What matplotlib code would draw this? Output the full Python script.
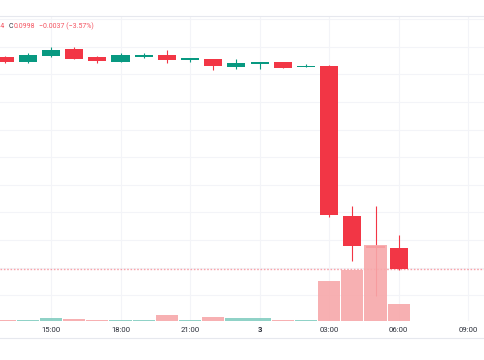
import matplotlib
matplotlib.use('Agg')
import matplotlib.pyplot as plt
import numpy as np

plt.rcParams['font.family'] = ['Roboto', 'DejaVu Sans']

# hourly candles, hour 24 = midnight of day 3
hours = [13, 14, 15, 16, 17, 18, 19, 20, 21, 22, 23, 24, 25, 26, 27, 28, 29, 30]
opens = [0.1382, 0.1372, 0.1383, 0.1396, 0.1381, 0.1373, 0.1381, 0.1385, 0.1376,
         0.1378, 0.1364, 0.1368, 0.1372, 0.1364, 0.1365, 0.1093, 0.1039, 0.1035]
highs = [0.1383, 0.1388, 0.1400, 0.1400, 0.1383, 0.1389, 0.1389, 0.1394, 0.1380,
         0.1378, 0.1378, 0.1372, 0.1372, 0.1369, 0.1367, 0.1112, 0.1112, 0.1059]
lows = [0.1371, 0.1371, 0.1381, 0.1378, 0.1371, 0.1373, 0.1379, 0.1371, 0.1372,
        0.1358, 0.1360, 0.1360, 0.1361, 0.1364, 0.1092, 0.1012, 0.0949, 0.0996]
closes = [0.1373, 0.1385, 0.1394, 0.1378, 0.1374, 0.1385, 0.1385, 0.1376, 0.1379,
          0.1365, 0.1371, 0.1372, 0.1361, 0.1365, 0.1095, 0.1039, 0.1035, 0.0998]
volumes = [10, 10, 30, 20, 15, 10, 10, 57, 10, 37, 27, 33, 13, 10, 400, 513, 760, 170]

tick_hours = [15, 18, 21, 24, 27, 30, 33]
tick_labels = ['15:00', '18:00', '21:00', '3', '03:00', '06:00', '09:00']
last_close = 0.0998
legend_low = 'L0.0994'
legend_close = 'C0.0998'
legend_change = '\u22120.0037 (\u22123.57%)'

UP = '#089981'
DOWN = '#f23645'
UP_VOL = '#84cdc1'
DOWN_VOL = '#f7a8aa'
GRID = '#f3f4f8'

W, H = 485, 360
fig = plt.figure(figsize=(W / 100, H / 100), dpi=100)
ax = fig.add_axes([0, 1 - 321 / H, 1, (321 - 16) / H])
vax = ax.twinx()

ax.set_xlim(12.80, 12.80 + W / 23.18)
ax.set_ylim(0.09033, 0.14558)
vax.set_ylim(0, 3050)

for a in (ax, vax):
    for s in a.spines.values():
        s.set_visible(False)
    a.set_yticks([])
ax.set_yticks(np.arange(0.095, 0.146, 0.005))
ax.tick_params(axis='y', left=False, labelleft=False)
ax.set_xticks(tick_hours)
ax.tick_params(axis='x', bottom=False, labelbottom=False)
ax.grid(True, color=GRID, linewidth=0.8)
ax.set_axisbelow(True)

# candles
for h, o, hi, lo, c in zip(hours, opens, highs, lows, closes):
    col = UP if c >= o else DOWN
    ax.vlines(h, lo, hi, color=col, linewidth=0.8, zorder=2)
    body = max(abs(c - o), 0.00018)
    ax.bar(h, body, bottom=min(o, c), width=0.78, color=col, linewidth=0, zorder=3)

# price line
ax.axhline(last_close, color=DOWN, alpha=0.45, linewidth=1.0, linestyle=(0, (1.2, 1.2)), zorder=1)

# volume
vcols = [UP_VOL if c >= o else DOWN_VOL for o, c in zip(opens, closes)]
vax.bar(hours, volumes, width=0.96, color=vcols, alpha=0.9, linewidth=0, zorder=4)
vax.set_zorder(ax.get_zorder() + 1)
vax.patch.set_visible(False)

# time axis labels
for h, lab in zip(tick_hours, tick_labels):
    x = (h - 12.80) * 23.18 / W
    fig.text(x, 1 - 330 / H, lab, ha='center', va='center', fontsize=5.6,
             color='#2a2e39', fontweight='bold' if lab == '3' else 'normal')

# borders
fig.add_artist(plt.Line2D([0, 1], [1 - 16 / H, 1 - 16 / H], color='#e6e8ee', linewidth=0.8))
fig.add_artist(plt.Line2D([0, 1], [1 - 338 / H, 1 - 338 / H], color='#e6e8ee', linewidth=0.8))

# legend line: size the font so the change text is ~55 px wide, like the reference
ly = 1 - 26 / H
r = fig.canvas.get_renderer()
probe = fig.text(0, 0, legend_change, fontsize=10)
fs = 10 * 55 / probe.get_window_extent(r).width
probe.remove()

fig.text(5 / W, ly, legend_low, ha='right', va='center', fontsize=fs, color=DOWN, alpha=0.85)
fig.text(8.5 / W, ly, legend_close[0], ha='left', va='center', fontsize=fs, color='#2a2e39')
fig.text(13.5 / W, ly, legend_close[1:], ha='left', va='center', fontsize=fs, color=DOWN, alpha=0.85)
fig.text(39 / W, ly, legend_change, ha='left', va='center', fontsize=fs, color=DOWN, alpha=0.85)

fig.savefig('out.png', dpi=100, facecolor='white')
